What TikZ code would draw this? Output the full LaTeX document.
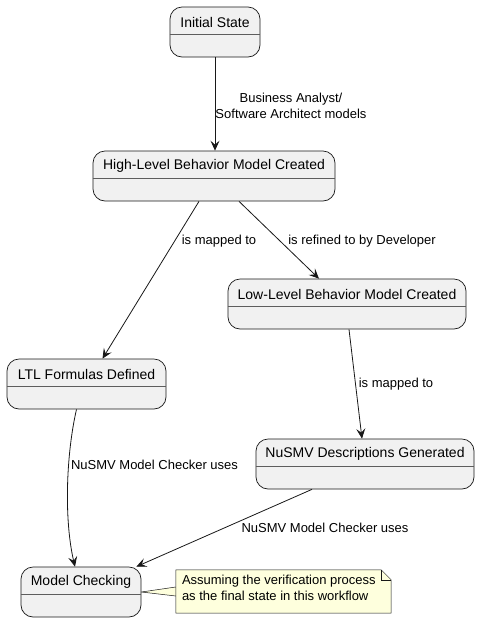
\documentclass[tikz,border=0pt]{standalone}
\usepackage{fontspec}
\setmainfont{Liberation Sans}
\usetikzlibrary{arrows.meta,calc}
\definecolor{stfill}{HTML}{F1F1F1}
\definecolor{stline}{HTML}{181818}
\definecolor{notefill}{HTML}{FEFFDD}
\tikzset{
  x=1pt,y=-1pt,
  statebox/.style={draw=stline,fill=stfill,line width=0.7pt,rounded corners=12pt,minimum height=50pt,inner sep=0pt},
  stitle/.style={font=\fontsize{14}{16}\selectfont,inner sep=0pt,anchor=center},
  elabel/.style={font=\fontsize{13}{16}\selectfont,inner sep=0pt,align=center},
  notetext/.style={font=\fontsize{13}{16}\selectfont,inner sep=0pt,align=left,anchor=north west},
  conn/.style={draw=stline,line width=0.8pt,-{Stealth[length=10pt,width=9pt,inset=4pt]}},
}
\newcommand{\mystate}[5]{%
  \node[statebox,minimum width=#3] (#1) at (#2) {};
  \node[stitle] (#1t) at ([yshift=-15.5pt]#1.north) {#4};
  \draw[stline!70,line width=0.6pt] ([yshift=-27.5pt]#1.north west) -- ([yshift=-27.5pt]#1.north east);
}
\begin{document}
\begin{tikzpicture}
\useasboundingbox (0,0) rectangle (480,622);
\fill[white] (0,0) rectangle (480,622);

\mystate{init}{215,32}{90pt}{Initial State}{}
\mystate{hl}{214,176}{242pt}{High-Level Behavior Model Created}{}
\mystate{ll}{347,304}{238pt}{Low-Level Behavior Model Created}{}
\mystate{ltl}{86.5,384}{159pt}{LTL Formulas Defined}{}
\mystate{nd}{365,464}{218pt}{NuSMV Descriptions Generated}{}
\mystate{mc}{81,592}{120pt}{Model Checking}{}

% note
\node[minimum width=215pt,minimum height=43pt,inner sep=0pt] (nt) at (283.5,591.5) {};
\fill[notefill] (mc.east) -- (nt.west |- 0,587) -- (nt.west |- 0,596) -- cycle;
\draw[stline,line width=0.5pt] (mc.east) -- (nt.west |- 0,587);
\draw[stline,line width=0.5pt] (mc.east) -- (nt.west |- 0,596);
\draw[stline,line width=0.5pt,fill=notefill] (nt.north west) -- ([xshift=-10pt]nt.north east) -- ([yshift=-10pt]nt.north east) -- (nt.south east) -- (nt.south west) -- cycle;
\draw[stline,line width=0.5pt] ([xshift=-10pt]nt.north east) -- ([xshift=-10pt,yshift=-10pt]nt.north east) -- ([yshift=-10pt]nt.north east);
\node[notetext] (ntt) at ([xshift=6pt,yshift=-5pt]nt.north west) {Assuming the verification process\\as the final state in this workflow};

% connectors
\draw[conn] (init.south) -- (init.south |- hl.north);
\draw[conn] ([xshift=-15pt]hl.south) -- ([xshift=16pt]ltl.north);
\draw[conn] ([xshift=25pt]hl.south) -- ([xshift=-28pt]ll.north);
\draw[conn] ([xshift=2pt]ll.south) -- ([xshift=-3pt]nd.north);
\draw[conn] ([xshift=-10pt]ltl.south) .. controls (66,455) and (64,520) .. ([xshift=-6pt]mc.north);
\draw[conn] ([xshift=-53pt]nd.south) -- ([xshift=-5pt]mc.north east);

% labels
\node[elabel] (l1) at (291,106) {Business Analyst/\\Software Architect models};
\node[elabel] (l2) at (219,241) {is mapped to};
\node[elabel] (l3) at (362,241) {is refined to by Developer};
\node[elabel] (l4) at (396,384) {is mapped to};
\node[elabel] (l5) at (154.5,465) {NuSMV Model Checker uses};
\node[elabel] (l6) at (325,528) {NuSMV Model Checker uses};
\end{tikzpicture}
\end{document}
